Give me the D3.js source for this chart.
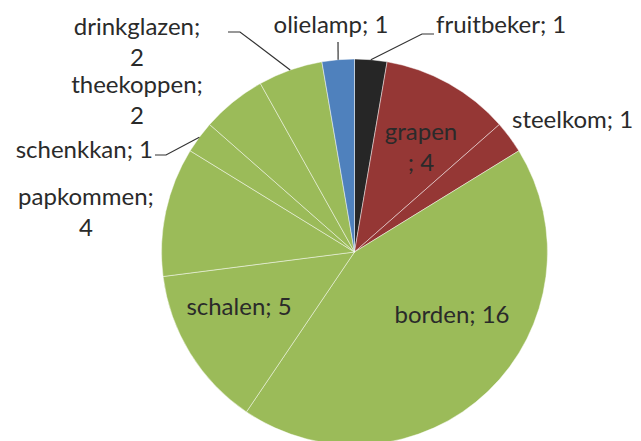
<!DOCTYPE html>
<html>
<head>
<meta charset="utf-8">
<script src="https://cdn.jsdelivr.net/npm/d3@7"></script>
<style>
  body { margin: 0; background: #fff; }
  text { font-family: Lato, "Open Sans", sans-serif; fill: #2a2a2a; }
</style>
</head>
<body>
<div id="chart"></div>
<script>
// Data: items, clockwise from the top
var names = ["fruitbeker", "grapen", "steelkom", "borden", "schalen", "papkommen", "schenkkan", "theekoppen", "drinkglazen", "olielamp"];
var counts = [1, 4, 1, 16, 5, 4, 1, 2, 2, 1];
var groups = ["black", "red", "red", "green", "green", "green", "green", "green", "green", "blue"];

var width = 641, height = 441;
var cx = 354.5, cy = 252, radius = 193;

var color = d3.scaleOrdinal()
  .domain(["black", "red", "green", "blue"])
  .range(["#262626", "#953735", "#9bbb59", "#4f81bd"]);

// Label layout (manual, like the original)
var labelLayout = {
  fruitbeker:  {x: 436, y: 33,  anchor: "start",  lines: ["fruitbeker; 1"], leader: [[422, 34], [434, 34]]},
  grapen:      {x: 421, y: 140, anchor: "middle", lines: ["grapen", "; 4"]},
  steelkom:    {x: 512, y: 128, anchor: "start",  lines: ["steelkom; 1"]},
  borden:      {x: 452, y: 323, anchor: "middle", lines: ["borden; 16"]},
  schalen:     {x: 239, y: 315, anchor: "middle", lines: ["schalen; 5"]},
  papkommen:   {x: 86,  y: 205, anchor: "middle", lines: ["papkommen;", "4"]},
  schenkkan:   {x: 153, y: 158, anchor: "end",    lines: ["schenkkan; 1"], leader: [[166, 155], [155, 155]]},
  theekoppen:  {x: 137, y: 93,  anchor: "middle", lines: ["theekoppen;", "2"]},
  drinkglazen: {x: 137, y: 35,  anchor: "middle", lines: ["drinkglazen;", "2"], leader: [[240, 32], [228, 32]]},
  olielamp:    {x: 331, y: 33,  anchor: "middle", lines: ["olielamp; 1"], leader: [[338, 42]]}
};

var data = names.map(function(n, i) { return {name: n, value: counts[i], group: groups[i]}; });

var svg = d3.select("#chart").append("svg")
  .attr("width", width)
  .attr("height", height);

var pie = d3.pie().sort(null).value(function(d) { return d.value; });
var arc = d3.arc().innerRadius(0).outerRadius(radius);
var arcs = pie(data);

var g = svg.append("g").attr("transform", "translate(" + cx + "," + cy + ")");

g.selectAll("path")
  .data(arcs)
  .enter()
  .append("path")
  .attr("d", arc)
  .attr("fill", function(d) { return color(d.data.group); })
  .attr("stroke", "rgba(255,255,255,0.45)")
  .attr("stroke-width", 1);

// Leader lines from the outer edge of the slice
arcs.forEach(function(d) {
  var lay = labelLayout[d.data.name];
  if (!lay.leader) return;
  var mid = (d.startAngle + d.endAngle) / 2;
  var pts = [[cx + radius * Math.sin(mid), cy - radius * Math.cos(mid)]].concat(lay.leader);
  svg.append("path")
    .attr("d", d3.line()(pts))
    .attr("fill", "none")
    .attr("stroke", "#333")
    .attr("stroke-width", 1.2);
});

// Labels
arcs.forEach(function(d) {
  var lay = labelLayout[d.data.name];
  var t = svg.append("text")
    .attr("text-anchor", lay.anchor)
    .attr("font-size", "24px");
  lay.lines.forEach(function(line, i) {
    t.append("tspan")
      .attr("x", lay.x)
      .attr("y", lay.y + i * 31)
      .text(line);
  });
});
</script>
</body>
</html>
